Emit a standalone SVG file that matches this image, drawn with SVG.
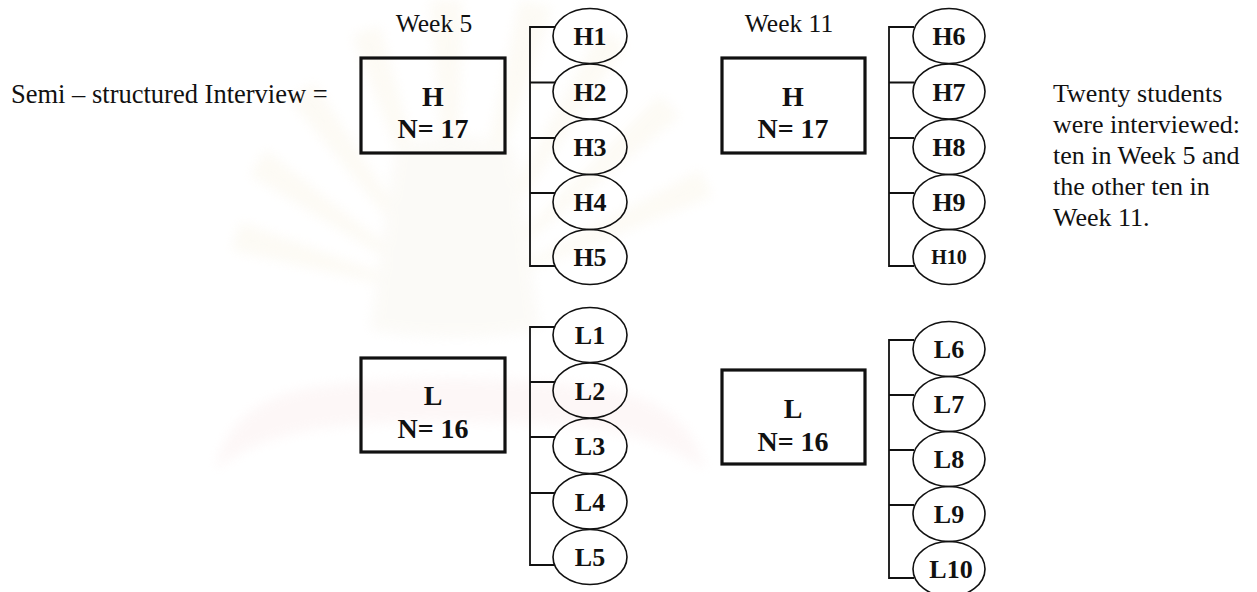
<svg xmlns="http://www.w3.org/2000/svg" width="1257" height="592" viewBox="0 0 1257 592">
  <defs>
    <style>
      .txt { font-family: "Liberation Serif", "Times New Roman", serif; font-size: 26px; fill: #111; }
      .lead { font-size: 26.5px; }
      .week { font-family: "Liberation Serif", "Times New Roman", serif; font-size: 25.5px; fill: #111; text-anchor: middle; }
      .boxlbl { font-family: "Liberation Serif", "Times New Roman", serif; font-size: 28px; font-weight: bold; fill: #111; text-anchor: middle; }
      .ovlbl { font-family: "Liberation Serif", "Times New Roman", serif; font-size: 26px; font-weight: bold; fill: #111; text-anchor: middle; }
      .small { font-size: 20px; }
      .box { fill: none; stroke: #111; stroke-width: 3.2; }
      .oval { fill: none; stroke: #111; stroke-width: 1.6; }
      .link { fill: none; stroke: #111; stroke-width: 1.8; }
      .ray { fill: #faf5e8; }
    </style>
    <filter id="soft" x="-10%" y="-10%" width="120%" height="120%">
      <feGaussianBlur stdDeviation="6"/>
    </filter>
  </defs>

  <rect width="1257" height="592" fill="#ffffff"/>

  <!-- faint background emblem -->
  <g id="emblem" filter="url(#soft)" opacity="0.45">
    <path class="ray" d="M455 300 L232 250 L240 222 Z"/>
    <path class="ray" d="M455 300 L250 175 L266 150 Z"/>
    <path class="ray" d="M455 300 L290 100 L314 82 Z"/>
    <path class="ray" d="M455 300 L352 35 L380 26 Z"/>
    <path class="ray" d="M455 300 L430 0 L462 0 Z"/>
    <path class="ray" d="M455 300 L520 0 L552 8 Z"/>
    <path class="ray" d="M455 300 L600 30 L626 44 Z"/>
    <path class="ray" d="M455 300 L660 95 L680 116 Z"/>
    <path class="ray" d="M455 300 L700 170 L712 196 Z"/>
    <path d="M395 150 Q455 120 515 150 L540 330 Q455 345 370 330 Z" fill="#f8f5ee"/>
    <path d="M215 470 Q230 395 330 385 Q455 372 580 385 Q690 395 705 470 Q650 430 560 425 Q455 418 350 425 Q260 432 215 470 Z" fill="#fbeeee"/>
  </g>

  <!-- free text -->
  <text class="txt lead" x="11" y="103">Semi – structured Interview =</text>
  <text class="week" x="434" y="32">Week 5</text>
  <text class="week" x="789" y="32">Week 11</text>
  <g id="note">
    <text class="txt" x="1053" y="102">Twenty students</text>
    <text class="txt" x="1053" y="133">were interviewed:</text>
    <text class="txt" x="1053" y="164">ten in Week 5 and</text>
    <text class="txt" x="1053" y="195">the other ten in</text>
    <text class="txt" x="1053" y="226">Week 11.</text>
  </g>

  <!-- connectors: spine plus one tick per student -->
  <g id="connectors">
    <path class="link" d="M555 27 H530 V266 H555 M530 82.5 H555 M530 138 H555 M530 193 H555"/>
    <path class="link" d="M914 27 H889 V266 H914 M889 82.5 H914 M889 138 H914 M889 193 H914"/>
    <path class="link" d="M555 327 H530 V565 H555 M530 382 H555 M530 437 H555 M530 493 H555"/>
    <path class="link" d="M914 340 H889 V578 H914 M889 395 H914 M889 450 H914 M889 505 H914"/>
  </g>

  <!-- group boxes -->
  <g id="box-h-w5">
    <rect class="box" x="361" y="58" width="144" height="95"/>
    <text class="boxlbl" x="433" y="106">H</text>
    <text class="boxlbl" x="433" y="138">N= 17</text>
  </g>
  <g id="box-l-w5">
    <rect class="box" x="361" y="358" width="144" height="94"/>
    <text class="boxlbl" x="433" y="405">L</text>
    <text class="boxlbl" x="433" y="438">N= 16</text>
  </g>
  <g id="box-h-w11">
    <rect class="box" x="722" y="58" width="143" height="95"/>
    <text class="boxlbl" x="793" y="106">H</text>
    <text class="boxlbl" x="793" y="138">N= 17</text>
  </g>
  <g id="box-l-w11">
    <rect class="box" x="722" y="370" width="143" height="94"/>
    <text class="boxlbl" x="793" y="418">L</text>
    <text class="boxlbl" x="793" y="451">N= 16</text>
  </g>

  <!-- students, week 5 -->
  <g id="H1"><ellipse class="oval" cx="590" cy="36" rx="37" ry="27.5"/><text class="ovlbl" x="590" y="45">H1</text></g>
  <g id="H2"><ellipse class="oval" cx="590" cy="91.5" rx="37" ry="27.5"/><text class="ovlbl" x="590" y="100.5">H2</text></g>
  <g id="H3"><ellipse class="oval" cx="590" cy="147" rx="37" ry="27.5"/><text class="ovlbl" x="590" y="156">H3</text></g>
  <g id="H4"><ellipse class="oval" cx="590" cy="202" rx="37" ry="27.5"/><text class="ovlbl" x="590" y="211">H4</text></g>
  <g id="H5"><ellipse class="oval" cx="590" cy="257" rx="37" ry="27.5"/><text class="ovlbl" x="590" y="266">H5</text></g>

  <g id="L1"><ellipse class="oval" cx="590" cy="335" rx="37" ry="27.5"/><text class="ovlbl" x="590" y="344">L1</text></g>
  <g id="L2"><ellipse class="oval" cx="590" cy="390.5" rx="37" ry="27.5"/><text class="ovlbl" x="590" y="399.5">L2</text></g>
  <g id="L3"><ellipse class="oval" cx="590" cy="446" rx="37" ry="27.5"/><text class="ovlbl" x="590" y="455">L3</text></g>
  <g id="L4"><ellipse class="oval" cx="590" cy="501.5" rx="37" ry="27.5"/><text class="ovlbl" x="590" y="510.5">L4</text></g>
  <g id="L5"><ellipse class="oval" cx="590" cy="557" rx="37" ry="27.5"/><text class="ovlbl" x="590" y="566">L5</text></g>

  <!-- students, week 11 -->
  <g id="H6"><ellipse class="oval" cx="949" cy="36" rx="36" ry="27.5"/><text class="ovlbl" x="949" y="45">H6</text></g>
  <g id="H7"><ellipse class="oval" cx="949" cy="91.5" rx="36" ry="27.5"/><text class="ovlbl" x="949" y="100.5">H7</text></g>
  <g id="H8"><ellipse class="oval" cx="949" cy="147" rx="36" ry="27.5"/><text class="ovlbl" x="949" y="156">H8</text></g>
  <g id="H9"><ellipse class="oval" cx="949" cy="202" rx="36" ry="27.5"/><text class="ovlbl" x="949" y="211">H9</text></g>
  <g id="H10"><ellipse class="oval" cx="949" cy="257" rx="36" ry="27.5"/><text class="ovlbl small" x="949" y="264">H10</text></g>

  <g id="L6"><ellipse class="oval" cx="949" cy="349" rx="36" ry="27.5"/><text class="ovlbl" x="949" y="358">L6</text></g>
  <g id="L7"><ellipse class="oval" cx="949" cy="404" rx="36" ry="27.5"/><text class="ovlbl" x="949" y="413">L7</text></g>
  <g id="L8"><ellipse class="oval" cx="949" cy="459" rx="36" ry="27.5"/><text class="ovlbl" x="949" y="468">L8</text></g>
  <g id="L9"><ellipse class="oval" cx="949" cy="514" rx="36" ry="27.5"/><text class="ovlbl" x="949" y="523">L9</text></g>
  <g id="L10"><ellipse class="oval" cx="949" cy="569" rx="36" ry="27.5"/><text class="ovlbl" x="951" y="578">L10</text></g>
</svg>
